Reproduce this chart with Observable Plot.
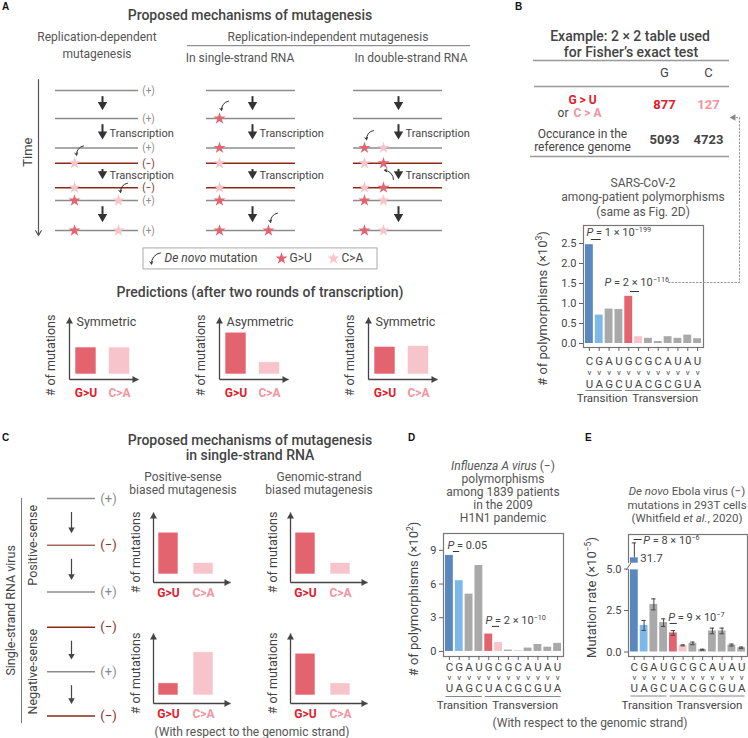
<!DOCTYPE html>
<html><head><meta charset="utf-8">
<script src="https://cdn.jsdelivr.net/npm/d3@7"></script>
<script src="https://cdn.jsdelivr.net/npm/@observablehq/plot@0.6"></script>
<style>
body{margin:0;background:#fff;}
#fig{position:relative;width:748px;height:738px;overflow:hidden;background:#fff;font-family:Roboto,"Noto Sans",sans-serif;color:#444;}
</style></head><body><div id="fig"></div><script>
// ---------------- data ----------------
const mutFrom = ["C","G","A","U","G","C","G","C","A","U","A","U"];
const mutTo   = ["U","A","G","C","U","A","C","G","C","G","U","A"];
const mutColor = ["#5b87bf","#7db8e8","#a9a9a9","#a9a9a9","#e3636f","#f8c4cb","#a9a9a9","#a9a9a9","#a9a9a9","#a9a9a9","#a9a9a9","#a9a9a9"];
const mutGroups = [{name:"Transition", first:0, last:3, label:1.3}, {name:"Transversion", first:4, last:11, label:7.7}];
const sarsCounts = [2.47, 0.71, 0.86, 0.85, 1.18, 0.17, 0.13, 0.05, 0.17, 0.13, 0.21, 0.12];   // ×10³
const fluCounts  = [8.55, 6.3, 5.1, 7.65, 1.55, 0.8, 0.12, 0.04, 0.3, 0.62, 0.38, 0.72];        // ×10²
const ebolaRates = [31.7, 1.6, 2.87, 1.77, 1.15, 0.4, 0.52, 0.14, 1.27, 1.27, 0.42, 0.26];     // ×10⁻⁵
const ebolaErrors = [7.5, 0.3, 0.33, 0.23, 0.14, 0.03, 0.08, 0.03, 0.17, 0.17, 0.06, 0.04];
const fisherCols = ["G","C"];
const fisherMutated = [877, 127];
const fisherGenome = [5093, 4723];
const predCats = ["G>U","C>A"];
const predictionsA = [
  {title:"Symmetric", values:[2.0, 2.0]},
  {title:"Asymmetric", values:[3.1, 0.9]},
  {title:"Symmetric", values:[2.05, 2.1]}];
const predictionsC = [[3.1, 0.85], [3.1, 0.85], [0.9, 3.2], [3.1, 0.9]];

// schematic (panel A): rows in time-step units
const aRows = [{row:0,sense:"+"},{row:1,sense:"+"},{row:2.05,sense:"+"},{row:2.6,sense:"−"},{row:3.47,sense:"−"},{row:3.93,sense:"+"},{row:5,sense:"+"}];
const aSteps = [{from:0,to:1,label:""},{from:1,to:2.05,label:"Transcription"},{from:2.6,to:3.47,label:"Transcription"},{from:3.93,to:5,label:""}];
const aMutations = [
 {col:0,row:2.6,site:0,type:"C>A"},{col:0,row:3.47,site:0,type:"C>A"},{col:0,row:3.93,site:0,type:"G>U"},{col:0,row:3.93,site:1,type:"C>A"},{col:0,row:5,site:0,type:"G>U"},{col:0,row:5,site:1,type:"C>A"},
 {col:1,row:1,site:0,type:"G>U"},{col:1,row:2.05,site:0,type:"G>U"},{col:1,row:2.6,site:0,type:"C>A"},{col:1,row:3.47,site:0,type:"C>A"},{col:1,row:3.93,site:0,type:"G>U"},{col:1,row:5,site:0,type:"G>U"},{col:1,row:5,site:1,type:"G>U"},
 {col:2,row:2.05,site:0,type:"G>U"},{col:2,row:2.05,site:1,type:"C>A"},{col:2,row:2.6,site:0,type:"C>A"},{col:2,row:2.6,site:1,type:"G>U"},{col:2,row:3.47,site:0,type:"C>A"},{col:2,row:3.47,site:1,type:"G>U"},{col:2,row:3.93,site:0,type:"G>U"},{col:2,row:3.93,site:1,type:"C>A"},{col:2,row:5,site:0,type:"G>U"},{col:2,row:5,site:1,type:"C>A"}];
const aDeNovo = [{col:0,row:2.6,site:0,dir:"down"},{col:0,row:3.93,site:1,dir:"down"},{col:1,row:1,site:0,dir:"down"},{col:1,row:5,site:1,dir:"down"},{col:2,row:2.05,site:0,dir:"down"},{col:2,row:2.6,site:1,dir:"up"}];
// schematic (panel C)
const cRows = [{row:0,sense:"+"},{row:1,sense:"−",light:true},{row:2,sense:"+"},{row:2.75,sense:"−"},{row:3.7,sense:"+"},{row:4.65,sense:"−"}];
const cSteps = [{from:0,to:1},{from:1,to:2},{from:2.75,to:3.7},{from:3.7,to:4.65}];
const cGroups = [{name:"Positive-sense",from:0,to:2},{name:"Negative-sense",from:2.75,to:4.65}];

// ---------------- layout / style ----------------
const fig = document.getElementById("fig");
const GU = "#e3636f", CA = "#f8c4cb", GU_TXT = "#e0202a", CA_TXT = "#f4949e";
const PLUS = "#8c8c8c", MINUS = "#8b2a18", MINUS_LIGHT = "#a26a5c";
const typeColor = {"G>U": GU, "C>A": CA};
const baseStyle = {fontFamily:"Roboto, 'Noto Sans', sans-serif", fontSize:"11px", color:"#444", overflow:"visible", background:"none"};
const H = "font-size:14px;font-weight:500;color:#444;";
const S = "font-size:12px;color:#555;";
const LET = "font:bold 10px 'Liberation Sans',Arial,sans-serif;color:#111;";
const MID = {textAnchor: "middle", lineAnchor: "middle"};

function rich(svg) {
  svg.querySelectorAll("text").forEach(t => {
    if (t.querySelector("tspan")) return;
    const s = t.textContent;
    if (!/[\^*]/.test(s)) return;
    t.textContent = "";
    let shifted = false;
    for (const p of s.split(/(\^[^^]*\^|\*[^*]*\*)/).filter(Boolean)) {
      const ts = document.createElementNS("http://www.w3.org/2000/svg", "tspan");
      if (p[0] === "^") { ts.textContent = p.slice(1,-1); ts.setAttribute("font-size","66%"); ts.setAttribute("dy","-0.6em"); shifted = true; }
      else {
        if (p[0] === "*") { ts.textContent = p.slice(1,-1); ts.setAttribute("font-style","italic"); } else ts.textContent = p;
        if (shifted) { ts.setAttribute("dy","0.396em"); shifted = false; }
      }
      t.appendChild(ts);
    }
  });
}
function place(svg, left, top) {
  svg.style.position = "absolute"; svg.style.left = left + "px"; svg.style.top = top + "px";
  rich(svg); fig.appendChild(svg); return svg;
}
function txt(html, x, y, css = "", anchor = "middle") {
  const d = document.createElement("div");
  d.innerHTML = html;
  d.style.cssText = `position:absolute;left:${x}px;top:${y}px;white-space:nowrap;line-height:1;transform:translate(${anchor==="start"?"0":"-50%"},-50%);${css}`;
  fig.appendChild(d);
}

// ---------------- mutation-spectrum bar chart ----------------
function mutChart(cfg) {
  const {frame, yDomain, ticks, fmt, bars, ylabel, ylabelX, ylabelDy, rowDy, extra = [], top = []} = cfg;
  const ml = 70, mt = 4, mr = 4, mb = 62;
  const fw = frame[2]-frame[0], fh = frame[3]-frame[1];
  const cats = mutFrom.map((f,i)=>({i, from:f, to:mutTo[i]}));
  const svg = Plot.plot({
    width: ml+fw+mr, height: mt+fh+mb, marginLeft: ml, marginRight: mr, marginTop: mt, marginBottom: mb,
    x: {domain: [-0.6, 11.6]}, y: {domain: yDomain}, color: {type: "identity"},
    style: baseStyle,
    marks: [
      Plot.rect(bars, {x1: d=>d.i-0.4, x2: d=>d.i+0.4, y1: "y1", y2: "y2", fill: d=>mutColor[d.i]}),
      ...extra,
      Plot.frame({stroke: "#777", strokeWidth: 1.2}),
      Plot.axisY({ticks, tickFormat: fmt, tickSize: 4, tickPadding: 3, label: null, stroke: "#666", fontSize: 11}),
      Plot.axisX({ticks: d3.range(12), tickSize: 4, tickFormat: () => "", label: null, stroke: "#666"}),
      Plot.text(cats, {x: "i", text: "from", frameAnchor: "bottom", dy: rowDy[0], fontSize: 11.5, ...MID}),
      Plot.text(cats, {x: "i", text: () => "v", frameAnchor: "bottom", dy: rowDy[1], fontSize: 8, ...MID}),
      Plot.text(cats, {x: "i", text: "to", frameAnchor: "bottom", dy: rowDy[2], fontSize: 11.5, ...MID}),
      Plot.ruleY(mutGroups, {x1: d=>d.first-0.35, x2: d=>d.last+0.35, y: yDomain[0], dy: rowDy[3], stroke: "#888", strokeWidth: 1}),
      Plot.text(mutGroups, {x: "label", text: "name", frameAnchor: "bottom", dy: rowDy[4], fontSize: 11.5, ...MID}),
      Plot.text([ylabel], {frameAnchor: "left", rotate: -90, dx: ylabelX - frame[0], dy: ylabelDy, fontSize: 13, ...MID}),
      ...top
    ]
  });
  return place(svg, frame[0]-ml, frame[1]-mt);
}
const ANN = 11;
function pAnn(text, x, y) { return Plot.text([text], {x, y, textAnchor: "start", fontSize: ANN}); }
function bracket(x1, x2, y) { return Plot.ruleY([y], {x1, x2, stroke: "#333", strokeWidth: 1}); }

// B: SARS-CoV-2
mutChart({
  frame: [583, 225, 703, 347], yDomain: [-0.1, 2.95], ticks: [0,0.5,1,1.5,2,2.5], fmt: d3.format(".1f"),
  bars: sarsCounts.map((v,i)=>({i, y1:0, y2:v})),
  ylabel: "# of polymorphisms (×10^3^)", ylabelX: 542, ylabelDy: 22, rowDy: [14, 25, 36.5, 43, 51],
  top: [pAnn("*P* = 1 × 10^−199^", -0.29, 2.775), bracket(0.2, 1.2, 2.6),
        pAnn("*P* = 2 × 10^−116^", 1.54, 1.525), bracket(4.18, 5.1, 1.3)]
});
// D: Influenza
mutChart({
  frame: [443, 533, 563, 656], yDomain: [-0.45, 10.5], ticks: [0,3,6,9], fmt: d3.format("d"),
  bars: fluCounts.map((v,i)=>({i, y1:0, y2:v})),
  ylabel: "# of polymorphisms (×10^2^)", ylabelX: 413, ylabelDy: 4, rowDy: [10.5, 21, 31.5, 40, 49],
  top: [pAnn("*P* = 0.05", -0.19, 9.45), bracket(0.4, 1.05, 8.9),
        pAnn("*P* = 2 × 10^−10^", 3.67, 2.76), bracket(4.38, 5.1, 2.23)]
});
// E: Ebola (broken axis for the first bar)
const ebolaBreak = {low: 4.95, high: 5.35, base: 29, scale: 0.12};
const disp = v => v <= ebolaBreak.low ? v : ebolaBreak.high + (v - ebolaBreak.base) * ebolaBreak.scale;
const ebolaBars = ebolaRates.flatMap((v,i)=> v > ebolaBreak.low
  ? [{i, y1:0, y2:ebolaBreak.low}, {i, y1:ebolaBreak.high, y2:disp(v)}] : [{i, y1:0, y2:v}]);
const ebolaEb = ebolaRates.map((v,i)=>({i, lo: v > ebolaBreak.low ? disp(v) : v - ebolaErrors[i], hi: disp(v + ebolaErrors[i]), broken: v > ebolaBreak.low}));
const ebolaCaps = ebolaEb.flatMap(d => d.broken ? [{i:d.i, y:d.hi}] : [{i:d.i, y:d.hi}, {i:d.i, y:d.lo}]);
mutChart({
  frame: [628, 534, 747, 656], yDomain: [-0.27, 7.08], ticks: [0,2.5,5], fmt: d3.format(".1f"),
  bars: ebolaBars,
  ylabel: "Mutation rate (×10^−5^)", ylabelX: 591, ylabelDy: 2, rowDy: [10.5, 21, 31.5, 39.5, 49],
  extra: [
    Plot.ruleX(ebolaEb, {x: "i", y1: "lo", y2: "hi", stroke: "#444", strokeWidth: 1}),
    Plot.ruleY(ebolaCaps, {x1: d=>d.i-0.22, x2: d=>d.i+0.22, y: "y", stroke: "#444", strokeWidth: 1})
  ],
  top: [
    Plot.ruleX([0], {x: -0.6, y1: ebolaBreak.low + 0.03, y2: ebolaBreak.high - 0.03, stroke: "white", strokeWidth: 4}),
    Plot.link([0], {x1: -0.85, y1: ebolaBreak.low - 0.02, x2: -0.35, y2: ebolaBreak.high + 0.02, stroke: "#666", strokeWidth: 1}),
    Plot.text(ebolaRates.filter(v => v > ebolaBreak.low), {x: 0.4, y: d => disp(d) - 0.05, dx: 2, text: d => d.toFixed(1), textAnchor: "start", fontSize: 11.5}),
    pAnn("*P* = 8 × 10^−6^", 0.91, 6.72), bracket(-0.02, 0.8, 6.78),
    pAnn("*P* = 9 × 10^−7^", 3.47, 2.08), bracket(3.67, 4.4, 1.72)
  ]
});

// ---------------- mini prediction charts ----------------
function miniChart({ox, oy, axisW, axisH, guX, caX, barW, barLift, values, title, labelDy, ylabDx, ylabDy}) {
  const pxu = 13.5, ml = 34, mt = 8, mr = 8, mb = 24;
  const step = caX - guX;
  const xDom = [-guX/step, (axisW-guX)/step];
  const yMin = -barLift/pxu, yDom = [yMin, yMin + axisH/pxu];
  const hw = barW/2/step;
  const cats = predCats.map((c,i)=>({i, cat:c, v: values[i]}));
  const svg = Plot.plot({
    width: ml+axisW+mr, height: mt+axisH+mb, marginLeft: ml, marginTop: mt, marginRight: mr, marginBottom: mb,
    x: {domain: xDom, axis: null}, y: {domain: yDom, axis: null}, color: {type: "identity"},
    style: baseStyle,
    marks: [
      Plot.rect(cats, {x1: d=>d.i-hw, x2: d=>d.i+hw, y1: 0, y2: "v", fill: d=>typeColor[d.cat], stroke: "white", strokeWidth: 0.6}),
      Plot.link([0], {x1: xDom[0], y1: yDom[0], x2: xDom[0], y2: yDom[1], stroke: "#444", strokeWidth: 1.3}),
      Plot.link([0], {x1: xDom[0], y1: yDom[0], x2: xDom[1], y2: yDom[0], stroke: "#444", strokeWidth: 1.3}),
      Plot.dot([0], {x: xDom[0], y: yDom[1], dy: 4, symbol: "triangle", r: 2.6, fill: "#444"}),
      Plot.dot([0], {x: xDom[1], y: yDom[0], dx: -4, symbol: "triangle", rotate: 90, r: 2.6, fill: "#444"}),
      Plot.text(cats, {x: "i", text: "cat", frameAnchor: "bottom", dy: labelDy, fill: d=>d.cat==="G>U"?GU_TXT:CA_TXT, fontWeight: "bold", fontSize: 12, ...MID}),
      Plot.text(["# of mutations"], {frameAnchor: "left", rotate: -90, dx: ylabDx, dy: ylabDy, fontSize: 12.5, ...MID}),
      ...(title ? [Plot.text([title], {frameAnchor: "top-left", dx: 7, dy: 4, textAnchor: "start", lineAnchor: "middle", fontSize: 12.5})] : [])
    ]
  });
  return place(svg, ox - ml, oy - axisH - mt);
}
const aMiniX = [69, 219, 368];
predictionsA.forEach((p, k) => miniChart({ox: aMiniX[k], oy: 379, axisW: 69, axisH: 62, guX: 16.5, caX: 50, barW: 21, barLift: 5,
  values: p.values, title: p.title, labelDy: 14, ylabDx: -19, ylabDy: 7}));
const cMiniPos = [[153, 582], [290, 582], [153, 703], [290, 703]];
predictionsC.forEach((v, k) => miniChart({ox: cMiniPos[k][0], oy: cMiniPos[k][1], axisW: 77, axisH: 70, guX: 15, caX: 50, barW: 20, barLift: 8,
  values: v, title: null, labelDy: 11, ylabDx: -18, ylabDy: 5}));

// ---------------- panel A schematic ----------------
const aColX = [55, 206, 353], aColLen = [83, 89, 89], aSiteX = [[74,118],[219,268],[364,383]], aArrowX = [102, 252, 398];
const aStrandData = aColX.flatMap((x0,c)=>aRows.map(r=>({...r, x1:x0, x2:x0+aColLen[c]})));
const aStepData = aArrowX.flatMap(x=>aSteps.map(s=>({...s, x})));
const aMutData = aMutations.map(m=>({...m, x: aSiteX[m.col][m.site]}));
const aDeNovoData = aDeNovo.map(m=>{ const sx = aSiteX[m.col][m.site];
  return m.dir === "down" ? {x1:sx+9, y1:m.row-0.62, x2:sx+2, y2:m.row-0.29} : {x1:sx+10, y1:m.row+0.58, x2:sx+1, y2:m.row+0.25}; });
const legendKeys = [{key:"G>U", x:281}, {key:"C>A", x:333}];
place(Plot.plot({
  width: 480, height: 280, margin: 0,
  x: {domain: [0,480], range: [0,480], axis: null}, y: {domain: [0,5], range: [90,230], axis: null}, color: {type: "identity"},
  style: baseStyle,
  marks: [
    Plot.ruleY([-1.6], {x1: 187, x2: 470, stroke: "#777", strokeWidth: 1}),
    Plot.arrow([0], {x1: 38, y1: -0.39, x2: 38, y2: 5.18, stroke: "#555", strokeWidth: 1.2, headLength: 7}),
    Plot.text(["Time"], {x: 27, y: 2.2, rotate: -90, fontSize: 13}),
    Plot.ruleY(aStrandData, {y: "row", x1: "x1", x2: "x2", stroke: d=>d.sense==="+"?PLUS:MINUS, strokeWidth: 1.5}),
    Plot.text(aRows, {x: 148, y: "row", text: d=>`(${d.sense})`, fill: d=>d.sense==="+"?PLUS:MINUS, fontSize: 10}),
    Plot.ruleX(aStepData, {x: "x", y1: d=>d.from+0.22, y2: d=>d.to-0.45, stroke: "#333", strokeWidth: 2}),
    Plot.dot(aStepData, {x: "x", y: d=>d.to-0.3, dy: -5.4, symbol: "triangle", rotate: 180, r: 3.5, fill: "#333"}),
    Plot.text(aStepData.filter(d=>d.label), {x: d=>d.x+7, y: d=>(d.from+d.to)/2, text: "label", textAnchor: "start", fontSize: 11}),
    Plot.dot(aMutData, {x: "x", y: "row", symbol: "star", r: 3.8, fill: d=>typeColor[d.type]}),
    Plot.arrow(aDeNovoData, {x1: "x1", y1: "y1", x2: "x2", y2: "y2", bend: -45, headLength: 4, stroke: "#333", strokeWidth: 1}),
    // legend
    Plot.rect([0], {x1: 143, x2: 377, y1: 5.64, y2: 6.39, fill: "none", stroke: "#aaa", strokeWidth: 1}),
    Plot.arrow([0], {x1: 160, y1: 5.8, x2: 151, y2: 6.2, bend: -45, headLength: 4, stroke: "#333", strokeWidth: 1}),
    Plot.text(["*De novo* mutation"], {x: 164, y: 6.0, textAnchor: "start", fontSize: 12}),
    Plot.dot(legendKeys, {x: "x", y: 6.0, symbol: "star", r: 3.8, fill: d=>typeColor[d.key]}),
    Plot.text(legendKeys, {x: d=>d.x+8, y: 6.0, text: "key", textAnchor: "start", fontSize: 12})
  ]
}), 0, 0);

// ---------------- panel C schematic ----------------
place(Plot.plot({
  width: 130, height: 338, margin: 0,
  x: {domain: [0,130], range: [0,130], axis: null}, y: {domain: [0,4.65], range: [98,315.6], axis: null}, color: {type: "identity"},
  style: baseStyle,
  marks: [
    Plot.ruleX([21], {y1: 0, y2: 4.81, stroke: "#777", strokeWidth: 1}),
    Plot.text(["Single-strand RNA virus"], {x: 10, y: 2.39, rotate: -90, fontSize: 12.5}),
    Plot.text(cGroups, {x: 32, y: d=>(d.from+d.to)/2, text: "name", rotate: -90, fontSize: 12.5}),
    Plot.ruleY(cRows, {y: "row", x1: 47, x2: 95, stroke: d=>d.sense==="+"?PLUS:(d.light?MINUS_LIGHT:MINUS), strokeWidth: 1.5}),
    Plot.text(cRows, {x: 108, y: "row", text: d=>`(${d.sense})`, fill: d=>d.sense==="+"?PLUS:MINUS, fontSize: 13}),
    Plot.ruleX(cSteps, {x: 71, y1: d=>d.from+0.3, y2: d=>d.to-0.35, stroke: "#444", strokeWidth: 1.2}),
    Plot.dot(cSteps, {x: 71, y: d=>d.to-0.26, dy: -3.7, symbol: "triangle", rotate: 180, r: 2.4, fill: "#444"})
  ]
}), 0, 400);

// ---------------- panel B table ----------------
const tableColX = [664, 708];
const tableLines = [{y:60, x1:533, x2:729}, {y:86, x1:534, x2:729}, {y:156, x1:530, x2:729}];
place(Plot.plot({
  width: 268, height: 165, margin: 0,
  x: {domain: [480,748], range: [0,268], axis: null}, y: {domain: [0,165], range: [0,165], axis: null}, color: {type: "identity"},
  style: baseStyle,
  marks: [
    Plot.ruleY(tableLines, {y: "y", x1: "x1", x2: "x2", stroke: "#999", strokeWidth: 1.3}),
    Plot.text(fisherCols, {x: (d,i)=>tableColX[i], y: 72, fontSize: 13}),
    Plot.text(["G > U"], {x: 582, y: 100, fill: GU_TXT, fontWeight: "bold", fontSize: 12}),
    Plot.text(["or"], {x: 568, y: 113, textAnchor: "end", fontSize: 12}),
    Plot.text(["C > A"], {x: 573, y: 113, textAnchor: "start", fill: CA_TXT, fontWeight: "bold", fontSize: 12}),
    Plot.text(fisherMutated, {x: (d,i)=>tableColX[i], y: 104.5, text: d => String(d), fill: (d,i)=>i===0?GU_TXT:CA_TXT, fontWeight: "bold", fontSize: 13}),
    Plot.text(["Occurance in the"], {x: 582, y: 133.5, fontSize: 12}),
    Plot.text(["reference genome"], {x: 582, y: 146.5, fontSize: 12}),
    Plot.text(fisherGenome, {x: (d,i)=>tableColX[i], y: 139.5, text: d => String(d), fill: "#444", fontWeight: "bold", fontSize: 13})
  ]
}), 480, 0);

// ---------------- connector (B) ----------------
const leaderPts = [{x:668,y:282},{x:739,y:282},{x:739,y:117},{x:733,y:117}];
const cv = place(Plot.plot({
  width: 748, height: 738, margin: 0,
  x: {domain: [0,748], range: [0,748], axis: null}, y: {domain: [0,738], range: [0,738], axis: null},
  style: baseStyle,
  marks: [
    Plot.line(leaderPts, {x: "x", y: "y", stroke: "#999", strokeWidth: 1.1, strokeDasharray: "1.5,2"}),
    Plot.dot([leaderPts[3]], {x: "x", y: "y", symbol: "triangle", rotate: -90, r: 2.5, fill: "#888"})
  ]
}), 0, 0);
cv.style.pointerEvents = "none";

// ---------------- HTML text ----------------
txt("A", 2, 6, LET, "start");
txt("Proposed mechanisms of mutagenesis", 250, 15, H);
txt("Replication-dependent", 97, 37, S);
txt("mutagenesis", 97, 54, S);
txt("Replication-independent mutagenesis", 328, 37, S);
txt("In single-strand RNA", 240, 58, S);
txt("In double-strand RNA", 411, 58, S);
txt("Predictions (after two rounds of transcription)", 260, 292, H);

txt("B", 515, 6, LET, "start");
txt("Example: 2 × 2 table used", 630, 36, H);
txt("for Fisher’s exact test", 631, 52, H);
txt("SARS-CoV-2", 643, 183, S);
txt("among-patient polymorphisms", 643, 197, S);
txt("(same as Fig. 2D)", 643, 212, S);

txt("C", 2, 437, LET, "start");
txt("Proposed mechanisms of mutagenesis", 250, 440, H);
txt("in single-strand RNA", 250, 455, H);
txt("Positive-sense", 183, 477, S);
txt("biased mutagenesis", 183, 490, S);
txt("Genomic-strand", 319, 477, S);
txt("biased mutagenesis", 319, 490, S);
txt("(With respect to the genomic strand)", 252, 732, S);

txt("D", 408, 437, LET, "start");
["<i>Influenza A virus</i> (−)", "polymorphisms", "among 1839 patients", "in the 2009", "H1N1 pandemic"]
  .forEach((s, k) => txt(s, 503, 466 + 13 * k, S));
txt("(With respect to the genomic strand)", 590, 723, S);

txt("E", 585, 437, LET, "start");
["<i>De novo</i> Ebola virus (−)", "mutations in 293T cells", "(Whitfield <i>et al.</i>, 2020)"]
  .forEach((s, k) => txt(s, 687, 492 + 13.5 * k, S + "font-size:11.5px;"));
</script></body></html>
